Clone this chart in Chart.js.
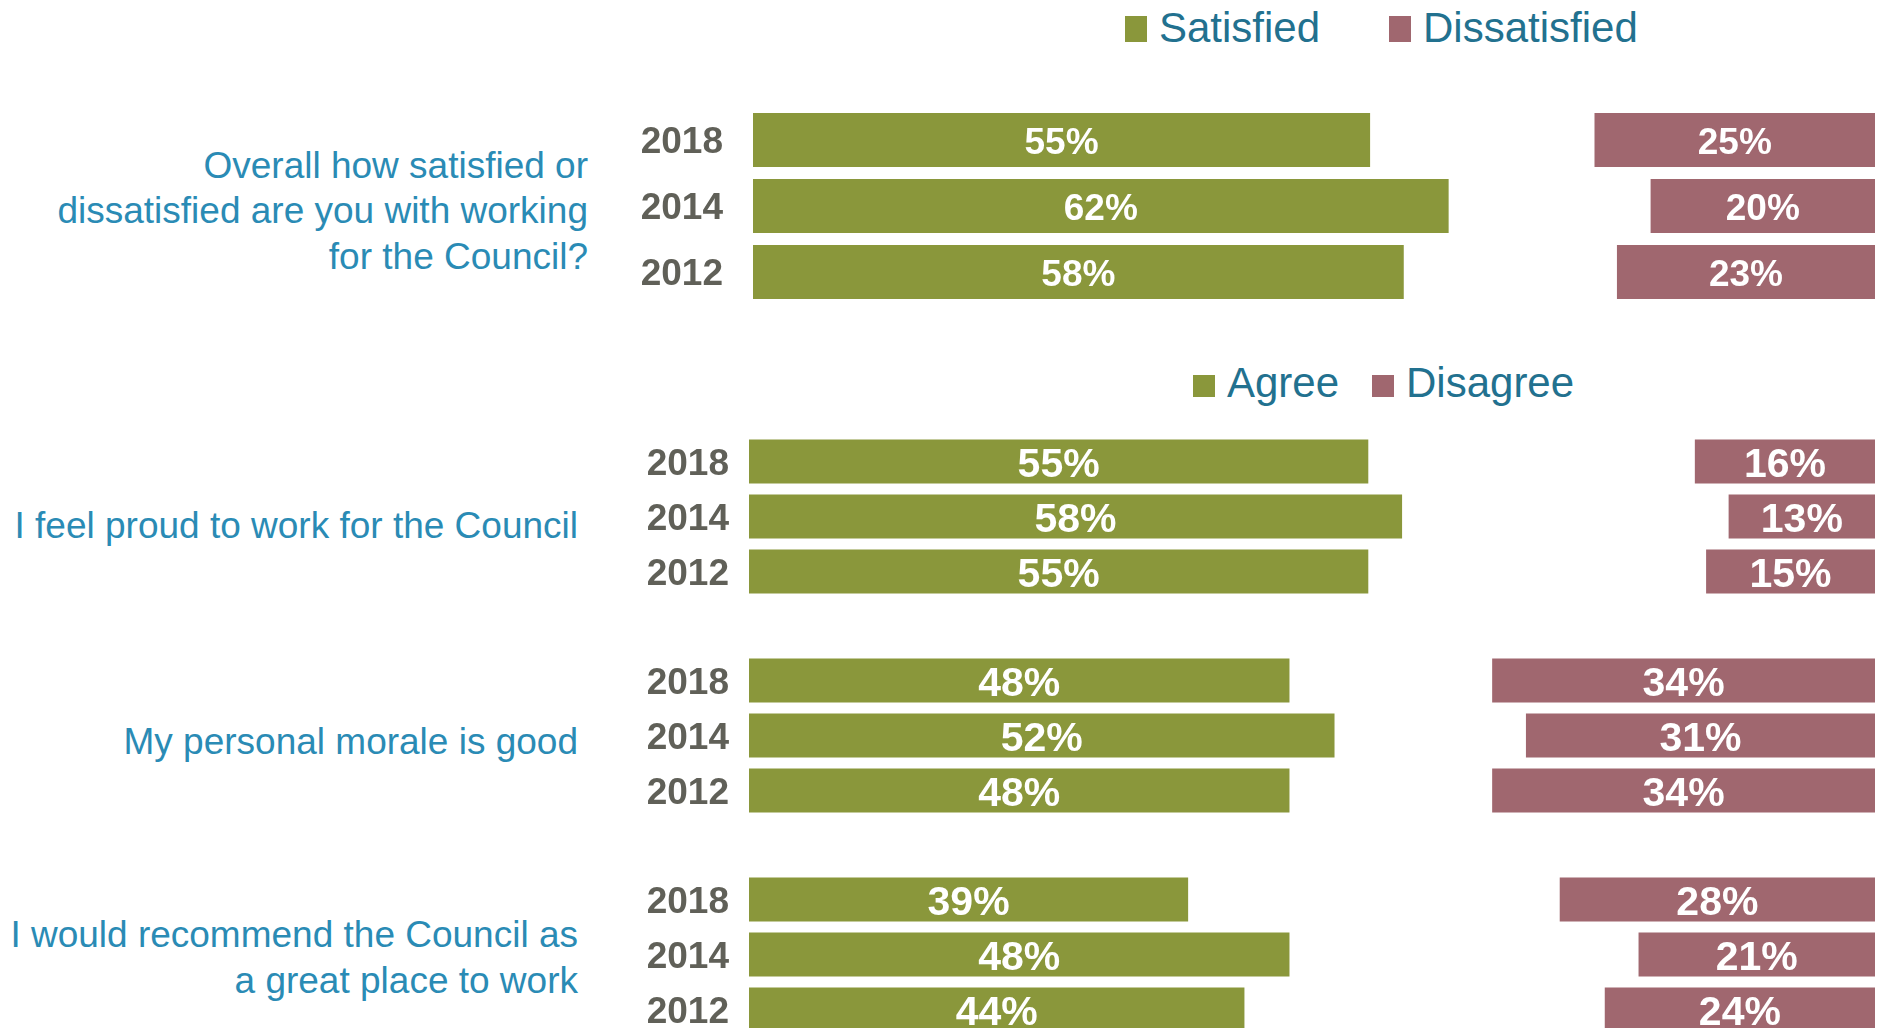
<!DOCTYPE html>
<html lang="en">
<head>
    <meta charset="UTF-8">
    <title>Staff Survey - Satisfaction and Agreement</title>
    <script src="https://cdn.jsdelivr.net/npm/chart.js"></script>
    <style>
        html, body {
            margin: 0;
            padding: 0;
            background: #fff;
            overflow: hidden;
        }
        body {
            position: relative;
            width: 1881px;
            height: 1028px;
            font-family: "Liberation Sans", Arial, sans-serif;
        }
        .chart-box {
            position: absolute;
            left: 600px;
            width: 1275px;
        }
        .question {
            position: absolute;
            left: 0;
            height: 200px;
            display: flex;
            align-items: center;
            justify-content: flex-end;
            text-align: right;
            color: #2a8bb5;
            font-size: 37px;
            line-height: 45.6px;
        }
        .legend-item {
            position: absolute;
            color: #22718f;
            font-size: 42px;
            line-height: 42px;
            white-space: nowrap;
        }
        .legend-item i {
            display: inline-block;
            width: 22px;
            height: 22px;
            margin-right: 12px;
        }
    </style>
</head>
<body>
    <div class="legend-item" style="left:1125px; top:7px"><i style="background:#8a973b; height:26px"></i>Satisfied</div>
    <div class="legend-item" style="left:1389px; top:7px"><i style="background:#a0676f; height:26px"></i>Dissatisfied</div>
    <div class="legend-item" style="left:1193px; top:362px"><i style="background:#8a973b"></i>Agree</div>
    <div class="legend-item" style="left:1372px; top:362px"><i style="background:#a0676f"></i>Disagree</div>

    <div class="question" style="top:111px; width:588px">Overall how satisfied or<br>dissatisfied are you with working<br>for the Council?</div>
    <div class="question" style="top:426px; width:578px">I feel proud to work for the Council</div>
    <div class="question" style="top:642px; width:578px">My personal morale is good</div>
    <div class="question" style="top:858px; width:578px">I would recommend the Council as<br>a great place to work</div>

    <div class="chart-box" style="top:107px; height:198px"><canvas id="overall"></canvas></div>
    <div class="chart-box" style="top:434px; height:165px"><canvas id="proud"></canvas></div>
    <div class="chart-box" style="top:653px; height:165px"><canvas id="morale"></canvas></div>
    <div class="chart-box" style="top:872px; height:165px"><canvas id="recommend"></canvas></div>

    <script>
        const years = ['2018', '2014', '2012'];

        const satisfied = [55, 62, 58];
        const dissatisfied = [25, 20, 23];

        const proudAgree = [55, 58, 55];
        const proudDisagree = [16, 13, 15];

        const moraleAgree = [48, 52, 48];
        const moraleDisagree = [34, 31, 34];

        const recommendAgree = [39, 48, 44];
        const recommendDisagree = [28, 21, 24];

        const GREEN = '#8a973b';
        const RED = '#a0676f';
        const FONT = '"Liberation Sans", Arial, sans-serif';

        // white percentage text in the middle of each visible bar
        const barLabels = {
            id: 'barLabels',
            afterDatasetsDraw(chart, args, opts) {
                const ctx = chart.ctx;
                ctx.save();
                ctx.font = `bold ${opts.size}px ${FONT}`;
                ctx.fillStyle = '#fff';
                ctx.textAlign = 'center';
                ctx.textBaseline = 'middle';
                chart.data.datasets.forEach((ds, i) => {
                    if (!ds.showValues) return;
                    chart.getDatasetMeta(i).data.forEach((bar, j) => {
                        const p = bar.getCenterPoint();
                        ctx.fillText(ds.data[j] + '%', p.x, p.y + 4);
                    });
                });
                ctx.restore();
            }
        };

        function makeChart(id, positive, negative, opts) {
            // the middle segment is the "neither" share, left blank
            const neither = positive.map((v, i) => 100 - v - negative[i]);
            return new Chart(document.getElementById(id), {
                type: 'bar',
                data: {
                    labels: years,
                    datasets: [
                        { data: positive, backgroundColor: GREEN, showValues: true },
                        { data: neither, backgroundColor: 'rgba(0,0,0,0)' },
                        { data: negative, backgroundColor: RED, showValues: true }
                    ]
                },
                options: {
                    indexAxis: 'y',
                    responsive: true,
                    maintainAspectRatio: false,
                    animation: false,
                    datasets: {
                        bar: {
                            categoryPercentage: opts.barShare,
                            barPercentage: 1,
                            borderWidth: 0
                        }
                    },
                    layout: { padding: 0 },
                    scales: {
                        x: {
                            stacked: true,
                            min: 0,
                            max: 100,
                            display: false
                        },
                        y: {
                            stacked: true,
                            grid: { display: false, drawTicks: false },
                            border: { display: false },
                            ticks: {
                                color: '#606058',
                                padding: opts.tickPad,
                                labelOffset: 3,
                                font: { family: FONT, size: 37, weight: 'bold' }
                            },
                            // fixed label column, and no extra room above/below the bars
                            afterFit: scale => {
                                scale.width = opts.axisWidth;
                                scale.paddingTop = 0;
                                scale.paddingBottom = 0;
                            }
                        }
                    },
                    plugins: {
                        legend: { display: false },
                        tooltip: { enabled: false },
                        barLabels: { size: opts.labelSize }
                    }
                },
                plugins: [barLabels]
            });
        }

        makeChart('overall', satisfied, dissatisfied, { barShare: 0.818, tickPad: 30, axisWidth: 153, labelSize: 37 });
        makeChart('proud', proudAgree, proudDisagree, { barShare: 0.8, tickPad: 20, axisWidth: 149, labelSize: 41 });
        makeChart('morale', moraleAgree, moraleDisagree, { barShare: 0.8, tickPad: 20, axisWidth: 149, labelSize: 41 });
        makeChart('recommend', recommendAgree, recommendDisagree, { barShare: 0.8, tickPad: 20, axisWidth: 149, labelSize: 41 });
    </script>
</body>
</html>
